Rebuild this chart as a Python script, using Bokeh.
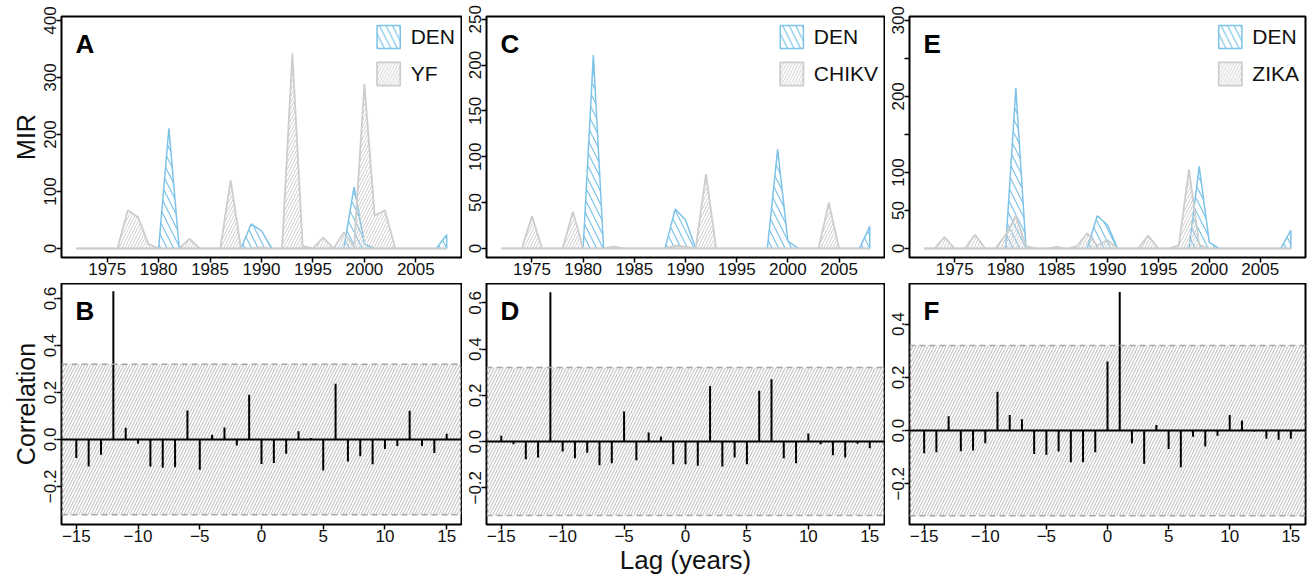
import math
from bokeh.plotting import figure
from bokeh.models import (Range1d, FixedTicker, Legend, LegendItem, Label, Span,
                          BoxAnnotation)
from bokeh.layouts import column, row
from bokeh.embed import file_html
from bokeh.resources import INLINE

# ---------------- data ----------------
years = list(range(1972, 2009))
den = [0, 0, 0, 0, 0, 0, 0, 0, 0, 211, 0, 0, 0, 0, 0, 0, 0, 43, 31, 0,
       0, 0, 0, 0, 0, 0, 0, 108, 8, 0, 0, 0, 0, 0, 0, 0, 24]
yf = [0, 0, 0, 0, 0, 67, 55, 8, 0, 0, 0, 17, 0, 0, 0, 120, 0, 0, 2, 0,
      0, 342, 4, 0, 19, 0, 28, 3, 289, 58, 67, 0, 0, 0, 0, 0, 0]
chikv = [0, 0, 0, 35, 0, 0, 0, 40, 0, 0, 0, 2, 0, 0, 0, 0, 0, 3, 2, 0,
         81, 0, 0, 0, 0, 0, 0, 0, 0, 0, 0, 0, 50, 0, 0, 0, 0]
zika = [0, 0, 15, 0, 0, 18, 0, 0, 18, 43, 3, 0, 0, 2, 0, 3, 20, 4, 11, 0,
        0, 0, 17, 0, 0, 4, 104, 5, 0, 0, 0, 0, 0, 0, 0, 0, 0]

lags = list(range(-15, 16))
corr_yf = [-0.079, -0.115, -0.065, 0.631, 0.050, -0.018, -0.115, -0.120, -0.118, 0.123,
           -0.129, 0.020, 0.051, -0.026, 0.190, -0.104, -0.100, -0.061, 0.035, 0.006,
           -0.132, 0.237, -0.094, -0.071, -0.106, -0.041, -0.028, 0.122, -0.028, -0.058,
           0.024]
corr_chikv = [0.025, -0.012, -0.077, -0.069, 0.646, -0.043, -0.072, -0.049, -0.103, -0.094,
              0.130, -0.081, 0.039, 0.022, -0.098, -0.098, -0.105, 0.240, -0.108, -0.069,
              -0.098, 0.220, 0.270, -0.072, -0.094, 0.035, -0.012, -0.059, -0.069, -0.009,
              -0.029]
corr_zika = [-0.085, -0.081, 0.054, -0.078, -0.075, -0.048, 0.146, 0.059, 0.043, -0.088,
             -0.091, -0.079, -0.119, -0.119, -0.081, 0.260, 0.521, -0.048, -0.125, 0.021,
             -0.069, -0.138, -0.023, -0.060, -0.019, 0.059, 0.038, -0.003, -0.031, -0.034,
             -0.031]
conf_limit = 0.32

year_ticks = [1975, 1980, 1985, 1990, 1995, 2000, 2005]
lag_ticks = [-15, -10, -5, 0, 5, 10, 15]

# ---------------- style ----------------
FONT = "Liberation Sans"
BLUE = "#7DC3E8"
GRAY = "#CDCDCD"
TXT = "#111111"
FRAME_H = 241


def minus(v, fmt):
    return fmt.format(v).replace("-", "\u2212")


def style_axes(p):
    p.grid.visible = False
    p.outline_line_color = "black"
    p.outline_line_width = 2
    p.background_fill_color = "white"
    for ax in (p.xaxis[0], p.yaxis[0]):
        ax.axis_line_color = None
        ax.major_tick_out = 5
        ax.major_tick_in = 0
        ax.major_tick_line_width = 1.5
        ax.major_tick_line_color = "black"
        ax.minor_tick_line_color = None
        ax.major_label_text_font = FONT
        ax.major_label_text_font_size = "17px"
        ax.major_label_text_color = TXT
        ax.major_label_standoff = 0
        ax.axis_label_text_font = FONT
        ax.axis_label_text_font_style = "normal"
        ax.axis_label_text_font_size = "25px"
        ax.axis_label_text_color = TXT
        ax.axis_label_standoff = 2
    p.yaxis[0].major_label_orientation = "vertical"


def letter(p, txt):
    p.add_layout(Label(x=14, y=FRAME_H - 27, x_units="screen", y_units="screen",
                       text=txt, text_font=FONT, text_font_style="bold",
                       text_color="black",
                       text_font_size="26px", text_baseline="alphabetic"))


def top_panel(txt, other_name, other_vals, yr, yticks, hidden, fw, lb, rb, ylabel=None):
    p = figure(frame_width=fw, frame_height=FRAME_H,
               x_range=Range1d(1970.56, 2009.44), y_range=Range1d(*yr),
               output_backend="svg", toolbar_location=None,
               min_border_left=lb, min_border_right=rb,
               min_border_top=16, min_border_bottom=26)
    style_axes(p)
    px = years + years[::-1]
    r_den = p.patch(px, den + [0] * len(years), fill_color=None,
                    line_color=BLUE, line_width=1.5,
                    hatch_pattern="\\", hatch_color=BLUE, hatch_scale=13,
                    hatch_weight=1.2)
    r_oth = p.patch(px, other_vals + [0] * len(years), fill_color=None,
                    line_color=GRAY, line_width=1.8,
                    hatch_pattern="/", hatch_color="#D0D0D0", hatch_scale=6,
                    hatch_weight=1.0)
    p.xaxis.ticker = FixedTicker(ticks=year_ticks)
    p.yaxis.ticker = FixedTicker(ticks=yticks)
    p.yaxis.major_label_overrides = {t: ("" if t in hidden else str(t)) for t in yticks}
    if ylabel:
        p.yaxis.axis_label = ylabel
    leg = Legend(items=[LegendItem(label="DEN", renderers=[r_den]),
                        LegendItem(label=other_name, renderers=[r_oth])],
                 location="top_right", glyph_width=29, glyph_height=29,
                 label_text_font=FONT, label_text_font_size="21px",
                 label_text_color=TXT,
                 label_standoff=8, spacing=8, padding=3, margin=6,
                 border_line_color=None, background_fill_alpha=0)
    p.add_layout(leg)
    letter(p, txt)
    return p


def bottom_panel(txt, corr, yr, yticks, fw, lb, rb, ylabel=None, xlabel=None):
    p = figure(frame_width=fw, frame_height=FRAME_H,
               x_range=Range1d(-16.2, 16.2), y_range=Range1d(*yr),
               output_backend="svg", toolbar_location=None,
               min_border_left=lb, min_border_right=rb,
               min_border_top=0, min_border_bottom=55)
    style_axes(p)
    p.add_layout(BoxAnnotation(bottom=-conf_limit, top=conf_limit,
                               fill_color=None, line_color=None,
                               hatch_pattern="/", hatch_color="#C4C4C4",
                               hatch_scale=6, hatch_weight=1.1, level="underlay"))
    for loc in (conf_limit, -conf_limit):
        p.add_layout(Span(location=loc, dimension="width", line_color="#A6A6A6",
                          line_dash="6 4", line_width=1.5))
    p.add_layout(Span(location=0, dimension="width", line_color="black", line_width=2))
    p.segment(x0=lags, y0=[0] * len(lags), x1=lags, y1=corr,
              line_color="black", line_width=2)
    p.xaxis.ticker = FixedTicker(ticks=lag_ticks)
    p.xaxis.major_label_overrides = {t: minus(t, "{:d}") for t in lag_ticks}
    p.yaxis.ticker = FixedTicker(ticks=yticks)
    p.yaxis.major_label_overrides = {t: minus(t, "{:.1f}") for t in yticks}
    if ylabel:
        p.yaxis.axis_label = ylabel
    if xlabel:
        p.xaxis.axis_label = xlabel
        p.xaxis.axis_label_text_font_size = "26px"
        p.xaxis.axis_label_standoff = 0
    letter(p, txt)
    return p


pA = top_panel("A", "YF", yf, (-15.8, 407), [0, 100, 200, 300, 400], [], 400, 61, 1, ylabel="MIR")
pC = top_panel("C", "CHIKV", chikv, (-9.9, 253), [0, 50, 100, 150, 200, 250], [], 398, 24, 1)
pE = top_panel("E", "ZIKA", zika, (-11.8, 305), [0, 50, 100, 150, 200, 250, 300], [150, 250], 396, 24, 5)

pB = bottom_panel("B", corr_yf, (-0.362, 0.664), [-0.2, 0.0, 0.2, 0.4, 0.6], 400, 61, 1,
                  ylabel="Correlation")
pD = bottom_panel("D", corr_chikv, (-0.359, 0.684), [-0.2, 0.0, 0.2, 0.4, 0.6], 398, 24, 1,
                  xlabel="Lag (years)")
pF = bottom_panel("F", corr_zika, (-0.353, 0.553), [-0.2, 0.0, 0.2, 0.4], 396, 24, 5)

layout = column(row(pA, pC, pE), row(pB, pD, pF))

open("out.html", "w").write(file_html(layout, INLINE))
